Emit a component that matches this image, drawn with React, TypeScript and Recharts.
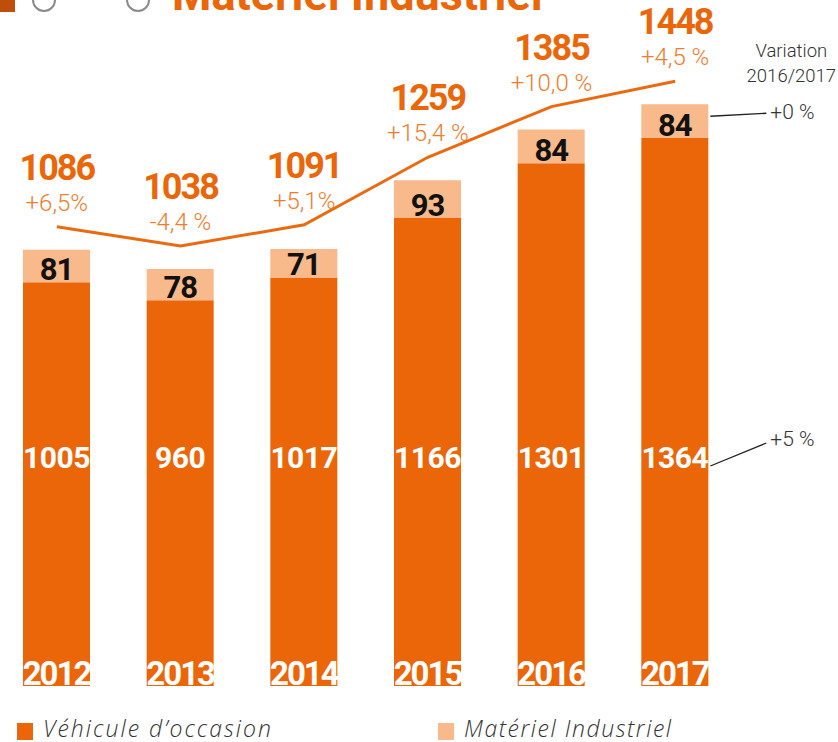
import { ComposedChart, Bar, Line, XAxis, YAxis, LabelList } from "recharts"

const years = ["2012", "2013", "2014", "2015", "2016", "2017"]
const vehicule = [1005, 960, 1017, 1166, 1301, 1364]
const materiel = [81, 78, 71, 93, 84, 84]
const totals = [1086, 1038, 1091, 1259, 1385, 1448]
const variations = ["+6,5%", "-4,4 %", "+5,1%", "+15,4 %", "+10,0 %", "+4,5 %"]
const seriesNames = ["Véhicule d’occasion", "Matériel Industriel"]
const variationTitle = ["Variation", "2016/2017"]
const lastVarVehicule = "+5 %"
const lastVarMateriel = "+0 %"
const title = "Matériel Industriel"

const DARK = "#EB6608"
const LIGHT = "#F8B98B"
const LINE = "#EB6A10"
const FONT = "Roboto, 'Noto Sans', sans-serif"

const data = years.map((year, i) => ({
  year,
  vehicule: vehicule[i],
  materiel: materiel[i],
  total: totals[i],
  variation: variations[i],
}))

const last = years.length - 1

function VehLabel(props: any) {
  const { x, y, width, height, value, index } = props
  const bottom = Number(y) + Number(height)
  const cx = Number(x) + Number(width) / 2
  const right = Number(x) + Number(width)
  return (
    <g>
      <text x={cx} y={bottom - 218} textAnchor="middle" fill="#fff" fontFamily={FONT} fontWeight={700} fontSize={30} letterSpacing={-0.5}>
        {value}
      </text>
      {index === last && (
        <g>
          <line x1={right + 2} y1={bottom - 220} x2={right + 58} y2={bottom - 243} stroke="#222" strokeWidth={1.3} />
          <text x={right + 62} y={bottom - 240} fill="#333" fontFamily={FONT} fontWeight={300} fontSize={21}>
            {lastVarVehicule}
          </text>
        </g>
      )}
    </g>
  )
}

function YearLabel(props: any) {
  const { x, y, width, height, value } = props
  const bottom = Number(y) + Number(height)
  return (
    <text x={Number(x) + Number(width) / 2} y={bottom - 1} textAnchor="middle" fill="#fff" fontFamily={FONT} fontWeight={700} fontSize={33} letterSpacing={-2}>
      {value}
    </text>
  )
}

function MatLabel(props: any) {
  const { x, y, width, height, value, index } = props
  const top = Number(y)
  const bottom = top + Number(height)
  const right = Number(x) + Number(width)
  return (
    <g>
      <text x={Number(x) + Number(width) / 2} y={bottom - 2} textAnchor="middle" fill="#111" fontFamily={FONT} fontWeight={700} fontSize={31} letterSpacing={-1}>
        {value}
      </text>
      {index === last && (
        <g>
          <line x1={right + 2} y1={top + 12} x2={right + 58} y2={top + 9} stroke="#222" strokeWidth={1.3} />
          <text x={right + 62} y={top + 15} fill="#333" fontFamily={FONT} fontWeight={300} fontSize={21}>
            {lastVarMateriel}
          </text>
          <text x={right + 83} y={top - 47} textAnchor="middle" fill="#333" fontFamily={FONT} fontWeight={300} fontSize={18.5}>
            {variationTitle[0]}
          </text>
          <text x={right + 83} y={top - 22} textAnchor="middle" fill="#333" fontFamily={FONT} fontWeight={300} fontSize={18.5}>
            {variationTitle[1]}
          </text>
        </g>
      )}
    </g>
  )
}

function TotalLabel(props: any) {
  const { x, y, value } = props
  return (
    <text x={Number(x)} y={Number(y) - 47} textAnchor="middle" fill={DARK} fontFamily={FONT} fontWeight={700} fontSize={36} letterSpacing={-2}>
      {value}
    </text>
  )
}

function VarLabel(props: any) {
  const { x, y, value } = props
  return (
    <text x={Number(x)} y={Number(y) - 16} textAnchor="middle" fill="#EF7D2C" fontFamily={FONT} fontWeight={300} fontSize={24}>
      {value}
    </text>
  )
}

export default function App() {
  return (
    <div style={{ position: "absolute", left: 0, top: 0, width: 838, height: 742, overflow: "hidden", background: "#fff" }}>
      <ComposedChart
        width={838}
        height={742}
        data={data}
        margin={{ top: 3, right: 101, bottom: 56, left: -5 }}
      >
        <XAxis dataKey="year" hide />
        <YAxis yAxisId="bars" hide domain={[0, 1700]} />
        <YAxis yAxisId="line" hide domain={[-57, 1643]} />
        <Bar yAxisId="bars" dataKey="vehicule" stackId="a" fill={DARK} barSize={67} isAnimationActive={false}>
          <LabelList dataKey="vehicule" content={VehLabel} />
          <LabelList dataKey="year" content={YearLabel} />
        </Bar>
        <Bar yAxisId="bars" dataKey="materiel" stackId="a" fill={LIGHT} barSize={67} isAnimationActive={false}>
          <LabelList dataKey="materiel" content={MatLabel} />
        </Bar>
        <Line yAxisId="line" dataKey="total" type="linear" stroke={LINE} strokeWidth={3} dot={false} isAnimationActive={false}>
          <LabelList dataKey="total" content={TotalLabel} />
          <LabelList dataKey="variation" content={VarLabel} />
        </Line>
      </ComposedChart>

      {/* bits of the page header cut at the top */}
      <svg width={838} height={20} style={{ position: "absolute", left: 0, top: 0 }}>
        <rect x={0} y={0} width={15} height={12} fill="#BF4E0B" />
        <circle cx={44} cy={0} r={11} fill="none" stroke="#8a8a8a" strokeWidth={2} />
        <circle cx={138} cy={0} r={11} fill="none" stroke="#8a8a8a" strokeWidth={2} />
        <text x={172} y={10} fill={DARK} fontFamily={FONT} fontWeight={700} fontSize={45}>
          {title}
        </text>
      </svg>

      {/* legend */}
      <svg width={838} height={34} style={{ position: "absolute", left: 0, top: 708 }}>
        {seriesNames.map((name, i) => (
          <g key={name}>
            <rect x={i === 0 ? 17 : 438} y={15} width={16} height={17} fill={i === 0 ? DARK : LIGHT} />
            <text
              x={i === 0 ? 43 : 464}
              y={29}
              fill="#333"
              fontFamily="'Open Sans', sans-serif"
              fontStyle="italic"
              fontWeight={300}
              fontSize={23}
              textLength={i === 0 ? 228 : 207}
              lengthAdjust="spacing"
            >
              {name}
            </text>
          </g>
        ))}
      </svg>
    </div>
  )
}
